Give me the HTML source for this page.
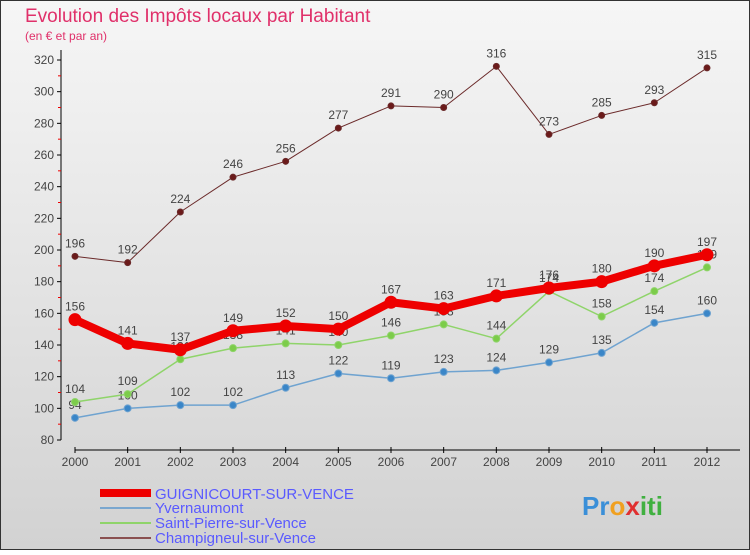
<!DOCTYPE html>
<html><head><meta charset="utf-8"><style>
body{margin:0;width:750px;height:550px;overflow:hidden;font-family:"Liberation Sans",sans-serif}
svg text{font-family:"Liberation Sans",sans-serif}
</style></head><body>
<svg id="c" width="750" height="550" xmlns="http://www.w3.org/2000/svg">
<defs><linearGradient id="bg" x1="0" y1="0" x2="0" y2="1"><stop offset="0" stop-color="#f6f6f6"/><stop offset="1" stop-color="#d2d2d2"/></linearGradient></defs>
<rect x="0.5" y="0.5" width="749" height="549" fill="url(#bg)" stroke="#333"/>
<text x="25" y="22" font-size="19" fill="#e0306a">Evolution des Impôts locaux par Habitant</text>
<text x="25" y="40" font-size="12" fill="#e0306a">(en € et par an)</text>
<g id="axes"></g><g id="series"></g>
<g>
<rect x="100" y="489" width="51" height="8" fill="#e00"/>
<text x="155" y="499" font-size="15" fill="#5a5aff">GUIGNICOURT-SUR-VENCE</text>
<line x1="100" y1="508" x2="151" y2="508" stroke="#7aa7cf" stroke-width="2"/>
<text x="155" y="513" font-size="15" fill="#5a5aff">Yvernaumont</text>
<line x1="100" y1="523" x2="151" y2="523" stroke="#8fd46a" stroke-width="2"/>
<text x="155" y="528" font-size="15" fill="#5a5aff">Saint-Pierre-sur-Vence</text>
<line x1="100" y1="538" x2="151" y2="538" stroke="#8a5050" stroke-width="2"/>
<text x="155" y="543" font-size="15" fill="#5a5aff">Champigneul-sur-Vence</text>
</g>
<text x="582" y="515" font-size="26" font-weight="bold"><tspan fill="#3a8fd8">Pr</tspan><tspan fill="#f0a020">o</tspan><tspan fill="#e03030">x</tspan><tspan fill="#40b040">iti</tspan></text>
</svg>
<script>
const years=[2000,2001,2002,2003,2004,2005,2006,2007,2008,2009,2010,2011,2012];
const yTicks=[80,100,120,140,160,180,200,220,240,260,280,300,320];
const guignicourt=[156,141,137,149,152,150,167,163,171,176,180,190,197];
const yvernaumont=[94,100,102,102,113,122,119,123,124,129,135,154,160];
const saintPierre=[104,109,131,138,141,140,146,153,144,174,158,174,189];
const champigneul=[196,192,224,246,256,277,291,290,316,273,285,293,315];
const NS="http://www.w3.org/2000/svg";
const X=i=>75+i*(632/12);
const Y=v=>440-(v-80)*(380/240);
function mk(t,a,p){const e=document.createElementNS(NS,t);for(const k in a)e.setAttribute(k,a[k]);p.appendChild(e);return e;}
const ax=document.getElementById('axes');
const yl=mk('line',{x1:61,y1:50,x2:61,y2:440,stroke:'#000'},ax);


const xl=mk('line',{x1:75,y1:450,x2:740,y2:450,stroke:'#000'},ax);


yTicks.forEach((t,i)=>{
 mk('line',{x1:57,y1:Y(t),x2:61,y2:Y(t),stroke:'#000'},ax);
 if(i<yTicks.length-1)mk('line',{x1:58,y1:Y(t+10),x2:61,y2:Y(t+10),stroke:'#e00'},ax);
 const tx=mk('text',{x:54,y:Y(t)+4,'font-size':12,'text-anchor':'end',fill:'#444'},ax);
 tx.textContent=t;
 
 
});
years.forEach((yr,i)=>{
 mk('line',{x1:X(i),y1:447,x2:X(i),y2:453,stroke:'#000'},ax);
 const tx=mk('text',{x:X(i),y:466,'font-size':12,'text-anchor':'middle',fill:'#444'},ax);
 tx.textContent=yr;
 
 
});
const sg=document.getElementById('series');
function draw(data,name,color,w,r,dot){
 const g=mk('g',{},sg);
 
 
 const pl=mk('polyline',{points:data.map((v,i)=>X(i)+','+Y(v)).join(' '),fill:'none',stroke:color,'stroke-width':w,'stroke-linejoin':'round'},g);
 
 
 data.forEach((v,i)=>{
  const c=mk('circle',{cx:X(i),cy:Y(v),r:r,fill:dot,stroke:color,'stroke-width':1},g);
  
  
  const t=mk('text',{x:X(i),y:Y(v)-9,'font-size':12,'text-anchor':'middle',fill:'#444'},g);
  t.textContent=v;
  
  
 });
}
draw(champigneul,'champigneul','#6b2a2a',1,3,'#6b1a1a');
draw(yvernaumont,'yvernaumont','#6fa3d0',1.5,3.5,'#3a86c8');
draw(saintPierre,'saint-pierre','#8fd46a',1.5,3.5,'#7ccc4a');
draw(guignicourt,'guignicourt','#ee0000',8,6,'#ee0000');
</script>
</body></html>
